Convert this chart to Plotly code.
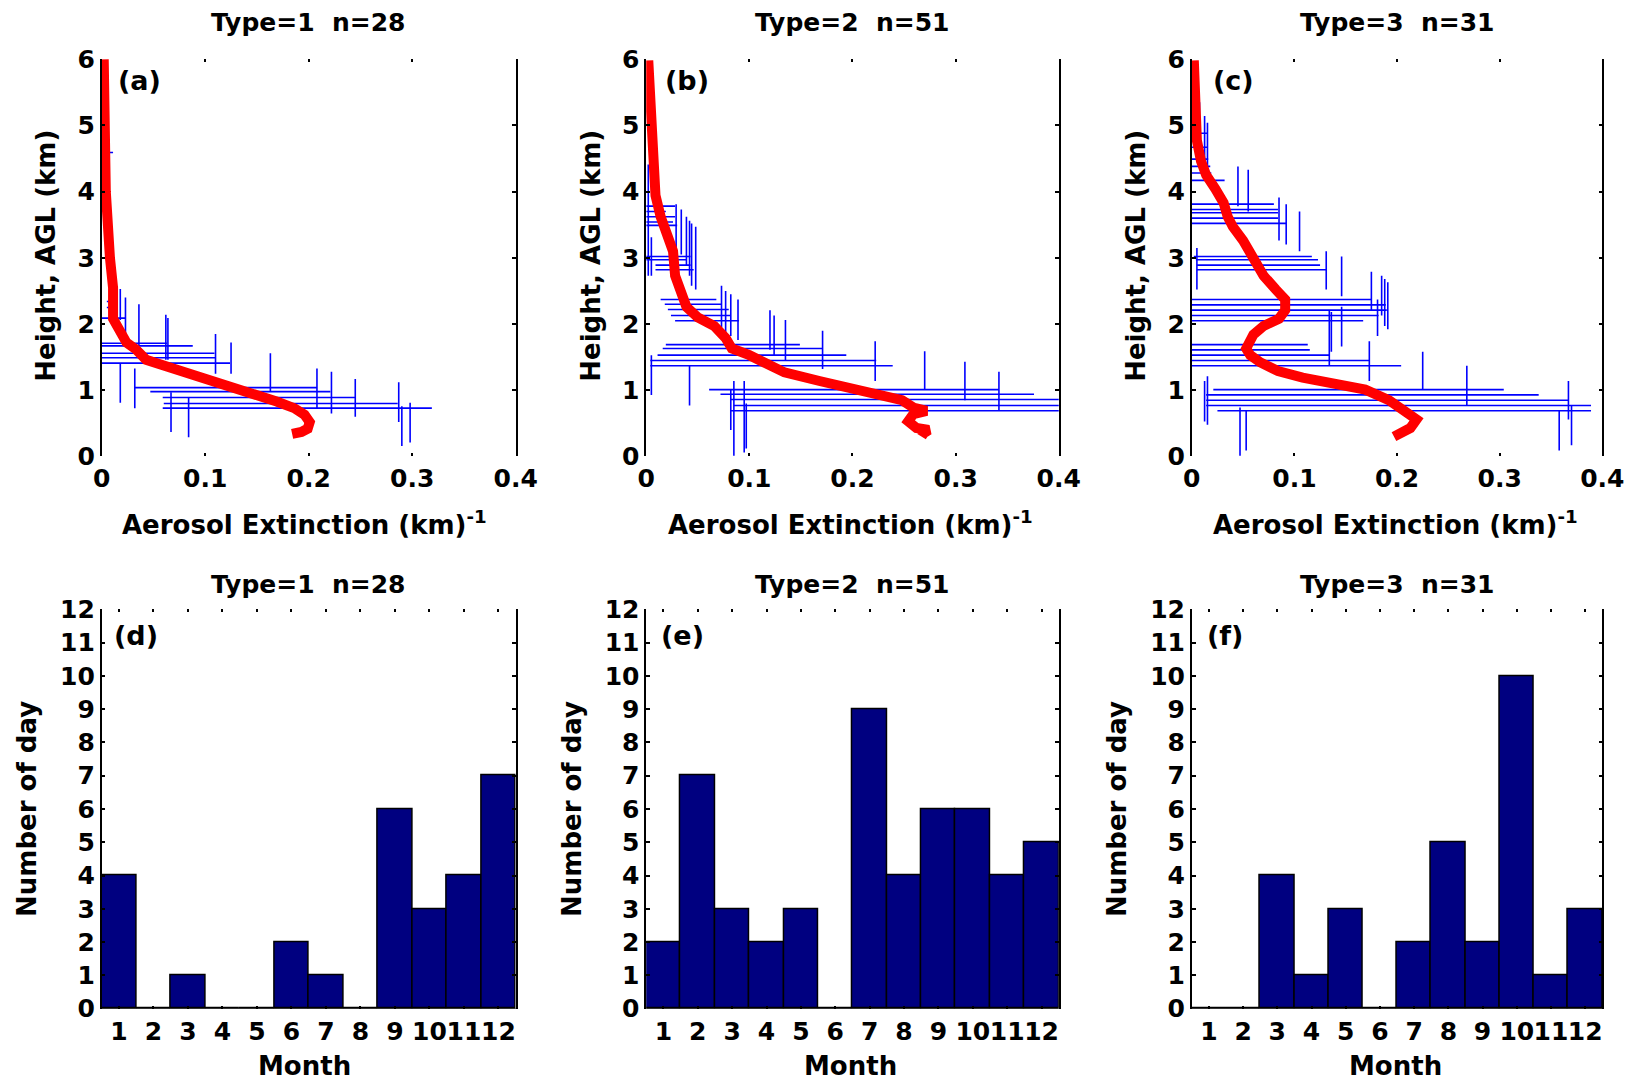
import plotly.graph_objects as go

W, H = 1631, 1082
PAD = 8                 # default page margin of the html body
FW, FH = 1640, 1100     # figure size in css px
SX, SY, OY = 0.981, 0.9715, 6.2   # measured page->photo mapping

# ---------------- data: mean extinction profiles (red) ----------------
a_prof_x = [0.002, 0.003, 0.004, 0.008, 0.011, 0.011, 0.018, 0.024, 0.033, 0.043, 0.063, 0.086,
            0.116, 0.143, 0.169, 0.186, 0.196, 0.201, 0.199, 0.193, 0.184]
a_prof_y = [6.0, 5.0, 4.0, 3.0, 2.55, 2.08, 1.88, 1.72, 1.62, 1.46, 1.36, 1.25,
            1.10, 0.94, 0.83, 0.73, 0.63, 0.52, 0.42, 0.37, 0.34]

b_prof_x = [0.002, 0.004, 0.006, 0.009, 0.014, 0.021, 0.026, 0.028, 0.033, 0.039, 0.050, 0.066, 0.077,
            0.083, 0.100, 0.117, 0.134, 0.168, 0.201, 0.228, 0.248, 0.259, 0.272, 0.259, 0.254,
            0.262, 0.274, 0.269, 0.267]
b_prof_y = [5.98, 5.30, 4.41, 3.94, 3.62, 3.36, 3.10, 2.73, 2.47, 2.26, 2.10, 1.97, 1.79,
            1.63, 1.53, 1.40, 1.27, 1.14, 1.03, 0.95, 0.85, 0.74, 0.69, 0.64, 0.53,
            0.43, 0.40, 0.35, 0.30]

c_prof_x = [0.002, 0.004, 0.005, 0.009, 0.014, 0.023, 0.031, 0.035, 0.040, 0.050, 0.060, 0.070, 0.082,
            0.091, 0.091, 0.085, 0.070, 0.060, 0.053, 0.057, 0.067, 0.084, 0.108, 0.135, 0.169,
            0.192, 0.209, 0.219, 0.213, 0.202, 0.197]
c_prof_y = [5.98, 5.30, 4.77, 4.46, 4.25, 4.04, 3.83, 3.62, 3.47, 3.26, 2.99, 2.73, 2.52,
            2.37, 2.21, 2.08, 1.97, 1.84, 1.63, 1.53, 1.42, 1.29, 1.19, 1.11, 1.01,
            0.85, 0.69, 0.56, 0.43, 0.35, 0.30]

# ---------------- data: horizontal spread bars (blue) ----------------
a_h_y  = [4.59, 4.46, 2.34, 2.25, 2.09, 1.71, 1.67, 1.56, 1.49, 1.41, 1.04, 0.98, 0.89, 0.80, 0.73]
a_h_x0 = [0.0, 0.0, 0.005, 0.005, 0.0, 0.0, 0.0, 0.0, 0.0, 0.0, 0.032, 0.047, 0.059, 0.060, 0.059]
a_h_x1 = [0.011, 0.008, 0.013, 0.015, 0.023, 0.063, 0.088, 0.109, 0.110, 0.124, 0.208, 0.221, 0.245, 0.286, 0.319]

b_h_y  = [3.78, 3.70, 3.62, 3.54, 3.49, 3.02, 2.97, 2.89, 2.82, 2.37, 2.30, 2.22, 2.13, 2.05,
          1.69, 1.63, 1.53, 1.45, 1.37, 1.01, 0.94, 0.86, 0.77, 0.69]
b_h_x0 = [0.0, 0.0, 0.0, 0.0, 0.0, 0.0, 0.0, 0.009, 0.009, 0.014, 0.018, 0.021, 0.024, 0.028,
          0.019, 0.016, 0.011, 0.004, 0.004, 0.061, 0.072, 0.082, 0.085, 0.082]
b_h_x1 = [0.028, 0.019, 0.028, 0.026, 0.030, 0.043, 0.039, 0.043, 0.046, 0.068, 0.073, 0.080, 0.082, 0.090,
          0.149, 0.171, 0.194, 0.223, 0.239, 0.342, 0.376, 0.420, 0.420, 0.420]

c_h_y  = [4.88, 4.67, 4.49, 4.38, 4.28, 4.17, 3.81, 3.73, 3.68, 3.60, 3.52, 3.02, 2.97, 2.89, 2.82,
          2.37, 2.29, 2.21, 2.13, 2.05, 1.69, 1.61, 1.53, 1.45, 1.37, 1.01, 0.93, 0.85, 0.77, 0.69]
c_h_x0 = [0.0, 0.0, 0.0, 0.0, 0.0, 0.0, 0.0, 0.0, 0.0, 0.0, 0.0, 0.002, 0.004, 0.005, 0.005,
          0.0, 0.0, 0.0, 0.0, 0.0, 0.0, 0.0, 0.0, 0.0, 0.0, 0.021, 0.014, 0.014, 0.014, 0.025]
c_h_x1 = [0.015, 0.015, 0.016, 0.018, 0.019, 0.032, 0.080, 0.084, 0.084, 0.084, 0.092, 0.117, 0.123, 0.125, 0.131,
          0.175, 0.189, 0.190, 0.182, 0.167, 0.113, 0.115, 0.134, 0.173, 0.204, 0.304, 0.338, 0.367, 0.389, 0.389]

# ---------------- data: vertical spread bars (blue) ----------------
a_v_x  = [0.006, 0.001, 0.018, 0.023, 0.036, 0.062, 0.064, 0.110, 0.125, 0.018, 0.032, 0.163,
          0.208, 0.222, 0.245, 0.287, 0.290, 0.298, 0.067, 0.084]
a_v_y0 = [4.64, 3.80, 2.53, 2.40, 2.30, 2.14, 2.09, 1.85, 1.72, 1.41, 1.33, 1.56,
          1.33, 1.28, 1.17, 1.12, 0.76, 0.81, 0.97, 0.89]
a_v_y1 = [4.33, 3.70, 2.06, 1.67, 1.67, 1.46, 1.46, 1.25, 1.25, 0.81, 0.73, 0.99,
          0.73, 0.65, 0.60, 0.52, 0.16, 0.21, 0.37, 0.29]

b_v_x  = [0.002, 0.005, 0.029, 0.034, 0.039, 0.042, 0.044, 0.048, 0.073, 0.077, 0.082, 0.089,
          0.120, 0.124, 0.135, 0.171, 0.222, 0.005, 0.042, 0.270, 0.309, 0.342, 0.082, 0.085, 0.095, 0.097]
b_v_y0 = [4.41, 3.31, 3.81, 3.73, 3.62, 3.56, 3.52, 3.47, 2.58, 2.50, 2.45, 2.37,
          2.21, 2.13, 2.06, 1.90, 1.74, 1.53, 1.37, 1.59, 1.43, 1.28, 1.02, 1.14, 1.14, 0.80]
b_v_y1 = [2.73, 2.73, 3.10, 3.05, 2.89, 2.73, 2.58, 2.52, 1.95, 1.84, 1.82, 1.76,
          1.61, 1.53, 1.45, 1.32, 1.14, 0.93, 0.77, 1.01, 0.85, 0.69, 0.40, 0.01, 0.06, 0.12]

c_v_x  = [0.0075, 0.0125, 0.0153, 0.045, 0.055, 0.085, 0.092, 0.105, 0.005, 0.131, 0.146, 0.175,
          0.185, 0.188, 0.191, 0.181, 0.134, 0.136, 0.146, 0.173, 0.225, 0.268, 0.0125, 0.0153,
          0.367, 0.370, 0.358, 0.047, 0.053]
c_v_y0 = [5.35, 5.14, 5.04, 4.38, 4.33, 3.91, 3.81, 3.70, 3.15, 3.10, 3.02, 2.79,
          2.73, 2.68, 2.63, 2.37, 2.21, 2.18, 2.26, 1.74, 1.58, 1.37, 1.14, 1.21,
          1.14, 0.77, 0.69, 0.74, 0.69]
c_v_y1 = [4.41, 4.36, 4.25, 3.78, 3.70, 3.26, 3.20, 3.10, 2.52, 2.52, 2.42, 2.21,
          2.13, 1.97, 1.92, 1.82, 1.37, 1.58, 1.66, 1.14, 1.01, 0.77, 0.53, 0.48,
          0.56, 0.17, 0.09, 0.01, 0.09]

# ---------------- data: monthly counts ----------------
months = list(range(1, 13))
month_labels = [str(m) for m in months]
days_type1 = [4, 0, 1, 0, 0, 2, 1, 0, 6, 3, 4, 7]
days_type2 = [2, 7, 3, 2, 3, 0, 9, 4, 6, 6, 4, 5]
days_type3 = [0, 0, 4, 1, 3, 0, 2, 5, 2, 10, 1, 3]

ext_ticks = [0, 0.1, 0.2, 0.3, 0.4]
ext_ticktext = ["0", "0.1", "0.2", "0.3", "0.4"]
height_ticks = [0, 1, 2, 3, 4, 5, 6]
day_ticks = list(range(0, 13))

titles = ["Type=1\u00a0\u00a0n=28", "Type=2\u00a0\u00a0n=51", "Type=3\u00a0\u00a0n=31"]
top_labels = ["(a)", "(b)", "(c)"]
bot_labels = ["(d)", "(e)", "(f)"]

# ---------------- layout geometry (target photo pixels) ----------------
col_x = [(100.5, 514.5), (645, 1057.5), (1190.5, 1601)]
top_y = (59, 455.5)
bot_y = (608, 1006.5)

def dx(p):
    return (p / SX - PAD) / FW

def dy(p):
    return 1 - ((p - OY) / SY - PAD) / FH

FONT = "DejaVu Sans"
tickfont = dict(family=FONT, size=25, color="black", weight="bold")

fig = go.Figure()

def seg_h(ys, x0s, x1s):
    xs, yy = [], []
    for y, a, b in zip(ys, x0s, x1s):
        xs += [a, b, None]
        yy += [y, y, None]
    return xs, yy

def seg_v(xs_, y0s, y1s):
    xs, yy = [], []
    for x, a, b in zip(xs_, y0s, y1s):
        xs += [x, x, None]
        yy += [a, b, None]
    return xs, yy

profiles = [
    (a_prof_x, a_prof_y, a_h_y, a_h_x0, a_h_x1, a_v_x, a_v_y0, a_v_y1),
    (b_prof_x, b_prof_y, b_h_y, b_h_x0, b_h_x1, b_v_x, b_v_y0, b_v_y1),
    (c_prof_x, c_prof_y, c_h_y, c_h_x0, c_h_x1, c_v_x, c_v_y0, c_v_y1),
]
counts = [days_type1, days_type2, days_type3]

axis_common = dict(showgrid=False, zeroline=False, ticks="inside", tickcolor="black",
                   tickwidth=1.5, tickfont=tickfont)

layout_axes = {}
for i in range(3):
    n = i + 1
    px_, py_, hy, hx0, hx1, vx, vy0, vy1 = profiles[i]
    xs, ys = seg_h(hy, hx0, hx1)
    xv, yv = seg_v(vx, vy0, vy1)
    xref = "x" if n == 1 else f"x{n}"
    yref = "y" if n == 1 else f"y{n}"
    fig.add_trace(go.Scatter(x=xs + xv, y=ys + yv, mode="lines",
                             line=dict(color="#0000FF", width=1.6),
                             xaxis=xref, yaxis=yref, showlegend=False, hoverinfo="skip"))
    fig.add_trace(go.Scatter(x=px_, y=py_, mode="lines",
                             line=dict(color="#FF0000", width=10),
                             xaxis=xref, yaxis=yref, showlegend=False))
    sfx = "" if n == 1 else str(n)
    layout_axes[f"xaxis{sfx}"] = dict(
        domain=[dx(col_x[i][0]), dx(col_x[i][1])], anchor=yref, range=[0, 0.4],
        tickvals=ext_ticks, ticktext=ext_ticktext, tickangle=0,
        showline=True, linecolor="rgba(0,0,0,0)", mirror="ticks", ticklen=3,
        **axis_common)
    layout_axes[f"yaxis{sfx}"] = dict(
        domain=[dy(top_y[1]), dy(top_y[0])], anchor=xref, range=[0, 6],
        tickvals=height_ticks,
        showline=True, linecolor="black", linewidth=1.5, mirror="ticks", ticklen=4,
        **axis_common)

for i in range(3):
    n = i + 4
    xref, yref = f"x{n}", f"y{n}"
    fig.add_trace(go.Bar(x=months, y=counts[i], width=1,
                         marker=dict(color="#000080", line=dict(color="black", width=1.5)),
                         xaxis=xref, yaxis=yref, showlegend=False))
    layout_axes[f"xaxis{n}"] = dict(
        domain=[dx(col_x[i][0]), dx(col_x[i][1])], anchor=yref, range=[0.5, 12.5],
        tickvals=months, ticktext=month_labels, tickangle=0,
        showline=True, linecolor="rgba(0,0,0,0)", mirror="ticks", ticklen=3,
        **axis_common)
    layout_axes[f"yaxis{n}"] = dict(
        domain=[dy(bot_y[1]), dy(bot_y[0])], anchor=xref, range=[0, 12],
        tickvals=day_ticks,
        showline=True, linecolor="black", linewidth=1.5, mirror="ticks", ticklen=4,
        **axis_common)

shapes = []
for i in range(3):
    n = i + 4
    shapes.append(dict(type="line", xref=f"x{n} domain", yref=f"y{n}",
                       x0=0, x1=1, y0=0, y1=0, line=dict(color="black", width=1.5)))

annotations = []
def ann(text, x, y, size, angle=0):
    annotations.append(dict(text=text, x=dx(x), y=dy(y), xref="paper", yref="paper",
                            xanchor="center", yanchor="middle", showarrow=False, textangle=angle,
                            font=dict(family=FONT, size=size, color="black", weight="bold")))

title_cx = [307.5, 851, 1396]
xtitle_cx = [303, 849, 1394]
ytitle_top_x = [44, 589, 1134]
ytitle_bot_x = [26, 571, 1116]
for i in range(3):
    ann(titles[i], title_cx[i], 22, 25)
    ann(titles[i], title_cx[i], 583, 25)
    ann("Aerosol Extinction (km)<sup>-1</sup>", xtitle_cx[i], 522, 26)
    ann("Month", xtitle_cx[i], 1064, 26)
    ann("Height, AGL (km)", ytitle_top_x[i], 255, 26, -90)
    ann("Number of day", ytitle_bot_x[i], 807, 26, -90)
for lab, x in zip(top_labels, [138, 686, 1232]):
    ann(lab, x, 80, 27)
for lab, x in zip(bot_labels, [135, 681, 1224]):
    ann(lab, x, 634, 27)

fig.update_layout(
    width=FW, height=FH, margin=dict(l=0, r=0, t=0, b=0),
    paper_bgcolor="white", plot_bgcolor="white",
    bargap=0, showlegend=False,
    font=dict(family=FONT, color="black"),
    shapes=shapes, annotations=annotations,
    **layout_axes,
)

fig.write_html("out.html")
